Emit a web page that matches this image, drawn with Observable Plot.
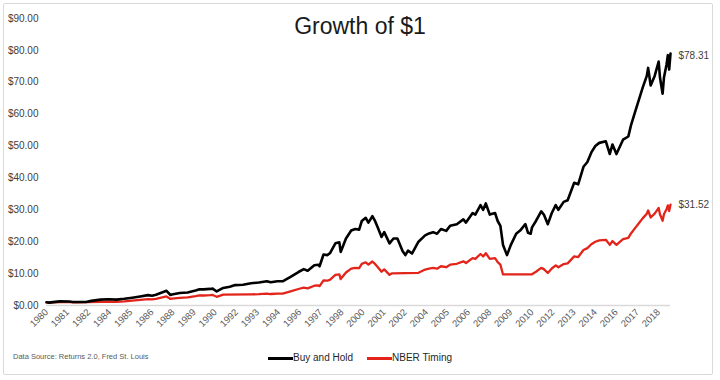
<!DOCTYPE html>
<html><head><meta charset="utf-8">
<script src="https://cdn.jsdelivr.net/npm/d3@7"></script>
<script src="https://cdn.jsdelivr.net/npm/@observablehq/plot@0.6"></script>
<style>
body{margin:0;background:#fff;font-family:"Liberation Sans",Arial,sans-serif;}
#wrap{position:relative;width:720px;height:380px;overflow:hidden;background:#fff}
#frame{position:absolute;left:3px;top:3px;width:710px;height:372px;border:1px solid #d9d9d9;border-radius:2px;box-sizing:border-box}
#title{position:absolute;left:0;width:720px;top:13px;line-height:26px;text-align:center;font-size:23px;color:#1a1a1a}
#chart{position:absolute;left:0;top:0}
#source{position:absolute;left:13px;top:352px;line-height:10px;font-size:7.5px;color:#595959}
.lg{position:absolute;top:352px;line-height:12px;font-size:10px;color:#262626}
.sw{position:absolute;top:357px;height:2.5px;width:25px}
</style></head>
<body><div id="wrap">
<div id="frame"></div>
<div id="chart"></div>
<div id="title">Growth of $1</div>
<div id="source">Data Source: Returns 2.0, Fred St. Louis</div>
<div class="sw" style="left:268px;background:#000"></div><div class="lg" style="left:293px">Buy and Hold</div>
<div class="sw" style="left:367px;background:#e3241b"></div><div class="lg" style="left:392px">NBER Timing</div>
</div>
<script>
const seriesNames = ["Buy and Hold", "NBER Timing"];
const seriesColors = ["#000000", "#e3241b"];
const endLabels = ["$78.31", "$31.52"];
const endValues = [78.31, 31.52];
const yTicks = [0, 10, 20, 30, 40, 50, 60, 70, 80, 90];
const xTickDates = ["1980-01","1981-05","1982-09","1984-01","1985-05","1986-09","1988-01","1989-05","1990-09","1992-01","1993-05","1994-09","1996-01","1997-05","1998-09","2000-01","2001-05","2002-09","2004-01","2005-05","2006-09","2008-01","2009-05","2010-09","2012-01","2013-05","2014-09","2016-01","2017-05","2018-09"];
const xTickLabels = ["1980","1981","1982","1984","1985","1986","1988","1989","1990","1992","1993","1994","1996","1997","1998","2000","2001","2002","2004","2005","2006","2008","2009","2010","2012","2013","2014","2016","2017","2018"];

const buyHold = [
["1980-01",1.00],["1980-03",0.90],["1980-06",1.05],["1980-11",1.30],["1981-06",1.25],["1981-09",1.12],
["1982-03",1.10],["1982-07",1.10],["1982-11",1.45],["1983-06",1.85],["1983-12",1.95],["1984-06",1.85],
["1984-12",2.10],["1985-06",2.45],["1985-12",2.85],["1986-06",3.25],["1986-09",3.05],["1986-12",3.40],
["1987-04",4.00],["1987-08",4.60],["1987-11",3.30],["1987-12",3.45],["1988-06",3.90],["1988-12",4.10],
["1989-06",4.70],["1989-09",5.10],["1989-12",5.05],["1990-05",5.20],["1990-07",5.30],["1990-10",4.40],
["1991-03",5.50],["1991-08",5.90],["1991-12",6.40],["1992-06",6.50],["1992-12",7.00],["1993-06",7.20],
["1993-12",7.60],["1994-03",7.30],["1994-08",7.60],["1994-12",7.60],["1995-06",9.00],["1995-12",10.50],
["1996-04",11.40],["1996-07",10.90],["1996-12",12.60],["1997-03",12.80],["1997-04",12.30],["1997-07",16.00],
["1997-10",15.80],["1997-12",16.50],["1998-04",19.50],["1998-07",19.80],["1998-08",16.80],["1998-12",21.00],
["1999-04",23.50],["1999-07",24.00],["1999-10",23.80],["1999-12",26.50],["2000-03",27.50],["2000-05",26.00],
["2000-08",28.00],["2000-10",26.50],["2000-12",24.50],["2001-03",21.50],["2001-05",23.00],["2001-09",19.50],
["2001-12",21.00],["2002-03",21.00],["2002-07",17.00],["2002-09",15.80],["2002-11",17.20],["2003-02",16.30],
["2003-07",20.00],["2003-12",22.00],["2004-03",22.60],["2004-06",23.00],["2004-09",22.50],["2004-12",24.00],
["2005-04",23.40],["2005-07",25.00],["2005-12",25.50],["2006-05",27.00],["2006-07",26.00],["2006-12",29.00],
["2007-02",28.50],["2007-06",31.50],["2007-08",30.00],["2007-10",32.00],["2008-01",28.50],["2008-05",29.00],
["2008-07",26.50],["2008-09",25.00],["2008-11",19.00],["2009-02",15.80],["2009-05",19.00],["2009-09",22.50],
["2009-12",23.50],["2010-04",25.50],["2010-06",22.80],["2010-08",22.50],["2010-09",24.50],["2010-12",26.50],
["2011-04",29.50],["2011-06",28.50],["2011-09",25.50],["2011-12",29.00],["2012-03",31.50],["2012-05",30.00],
["2012-09",32.50],["2012-12",33.00],["2013-05",38.50],["2013-08",38.00],["2013-12",43.50],["2014-03",45.00],
["2014-06",48.00],["2014-09",50.00],["2014-12",51.00],["2015-05",51.50],["2015-08",47.50],["2015-10",50.50],
["2016-01",47.50],["2016-06",52.00],["2016-10",53.00],["2016-12",56.50],["2017-03",60.50],["2017-06",64.50],
["2017-09",68.50],["2017-12",72.00],["2018-01",74.50],["2018-03",69.00],["2018-06",72.00],["2018-09",76.50],
["2018-10",71.50],["2018-12",66.40],["2019-01",71.50],["2019-03",75.50],["2019-04",78.50],["2019-05",74.00],
["2019-06",79.00]
];

const nberTiming = [
["1980-01",1.00],["1980-03",0.90],["1980-06",1.00],["1980-12",1.05],["1981-07",1.10],["1981-09",1.00],
["1982-01",1.02],["1982-08",1.08],["1983-07",1.15],["1983-12",1.20],["1984-06",1.14],["1984-12",1.30],
["1985-06",1.52],["1985-12",1.77],["1986-06",2.02],["1986-09",1.90],["1986-12",2.11],["1987-04",2.48],
["1987-08",2.85],["1987-11",2.05],["1987-12",2.14],["1988-06",2.42],["1988-12",2.55],["1989-06",2.92],
["1989-09",3.17],["1989-12",3.14],["1990-05",3.23],["1990-07",3.29],["1990-10",2.73],["1991-03",3.40],
["1992-12",3.48],["1993-06",3.55],["1993-12",3.74],["1994-03",3.60],["1994-08",3.74],["1994-12",3.74],
["1995-06",4.43],["1995-12",5.17],["1996-04",5.62],["1996-07",5.37],["1996-12",6.21],["1997-03",6.31],
["1997-04",6.06],["1997-07",7.88],["1997-10",7.78],["1997-12",8.13],["1998-04",9.61],["1998-07",9.75],
["1998-08",8.28],["1998-12",10.34],["1999-04",11.58],["1999-07",11.82],["1999-10",11.72],["1999-12",13.05],
["2000-03",13.55],["2000-05",12.81],["2000-08",13.79],["2000-10",13.05],["2000-12",12.07],["2001-03",10.59],
["2001-05",11.33],["2001-09",9.61],["2001-11",10.10],["2003-07",10.25],["2003-12",11.28],["2004-03",11.59],
["2004-06",11.79],["2004-09",11.54],["2004-12",12.31],["2005-04",12.00],["2005-07",12.82],["2005-12",13.08],
["2006-05",13.85],["2006-07",13.33],["2006-12",14.87],["2007-02",14.62],["2007-06",16.15],["2007-08",15.38],
["2007-10",16.41],["2008-01",14.62],["2008-05",14.87],["2008-07",13.59],["2008-09",12.82],["2008-11",9.74],
["2010-09",9.80],["2010-12",10.60],["2011-04",11.80],["2011-06",11.40],["2011-09",10.20],["2011-12",11.60],
["2012-03",12.60],["2012-05",12.00],["2012-09",13.00],["2012-12",13.20],["2013-05",15.40],["2013-08",15.20],
["2013-12",17.40],["2014-03",18.00],["2014-06",19.20],["2014-09",20.00],["2014-12",20.40],["2015-05",20.60],
["2015-08",19.00],["2015-10",20.20],["2016-01",19.00],["2016-06",20.80],["2016-10",21.20],["2016-12",22.60],
["2017-03",24.20],["2017-06",25.80],["2017-09",27.40],["2017-12",28.80],["2018-01",29.80],["2018-03",27.60],
["2018-06",28.80],["2018-09",30.60],["2018-10",28.60],["2018-12",26.56],["2019-01",28.60],["2019-03",30.20],
["2019-04",31.40],["2019-05",29.60],["2019-06",31.60]
];

const parse = d3.utcParse("%Y-%m");
const rows = (arr) => arr.map(([d, v]) => ({date: parse(d), value: v}));
const bh = rows(buyHold);
const nb = rows(nberTiming);
const tickDates = xTickDates.map(parse);
const labelMap = new Map(tickDates.map((d, i) => [+d, xTickLabels[i]]));
const lastDate = bh[bh.length - 1].date;
const endData = endLabels.map((t, i) => ({date: lastDate, value: endValues[i], text: t}));

const chart = Plot.plot({
  width: 720,
  height: 340,
  marginLeft: 46,
  marginRight: 50,
  marginTop: 18,
  marginBottom: 35,
  style: {fontFamily: '"Liberation Sans", Arial, sans-serif', background: "transparent"},
  x: {type: "utc", domain: [parse("1980-01"), lastDate]},
  y: {domain: [0, 90]},
  marks: [
    Plot.axisY({ticks: yTicks, tickFormat: d => "$" + d.toFixed(2), tickSize: 0, tickPadding: 8, fontSize: 10, fill: "#404040", label: null}),
    Plot.axisX({ticks: tickDates, tickFormat: d => labelMap.get(+d), tickRotate: -45, tickSize: 0, tickPadding: 5, fontSize: 9.5, fill: "#595959", label: null}),
    Plot.ruleY([0], {stroke: "#d9d9d9", strokeWidth: 1.5}),
    Plot.lineY(nb, {x: "date", y: "value", stroke: seriesColors[1], strokeWidth: 2.3}),
    Plot.lineY(bh, {x: "date", y: "value", stroke: seriesColors[0], strokeWidth: 2.6}),
    Plot.text(endData, {x: "date", y: "value", text: "text", textAnchor: "start", dx: 8, fontSize: 10, fill: "#404040"})
  ]
});
document.getElementById("chart").appendChild(chart);
</script>
</body></html>
